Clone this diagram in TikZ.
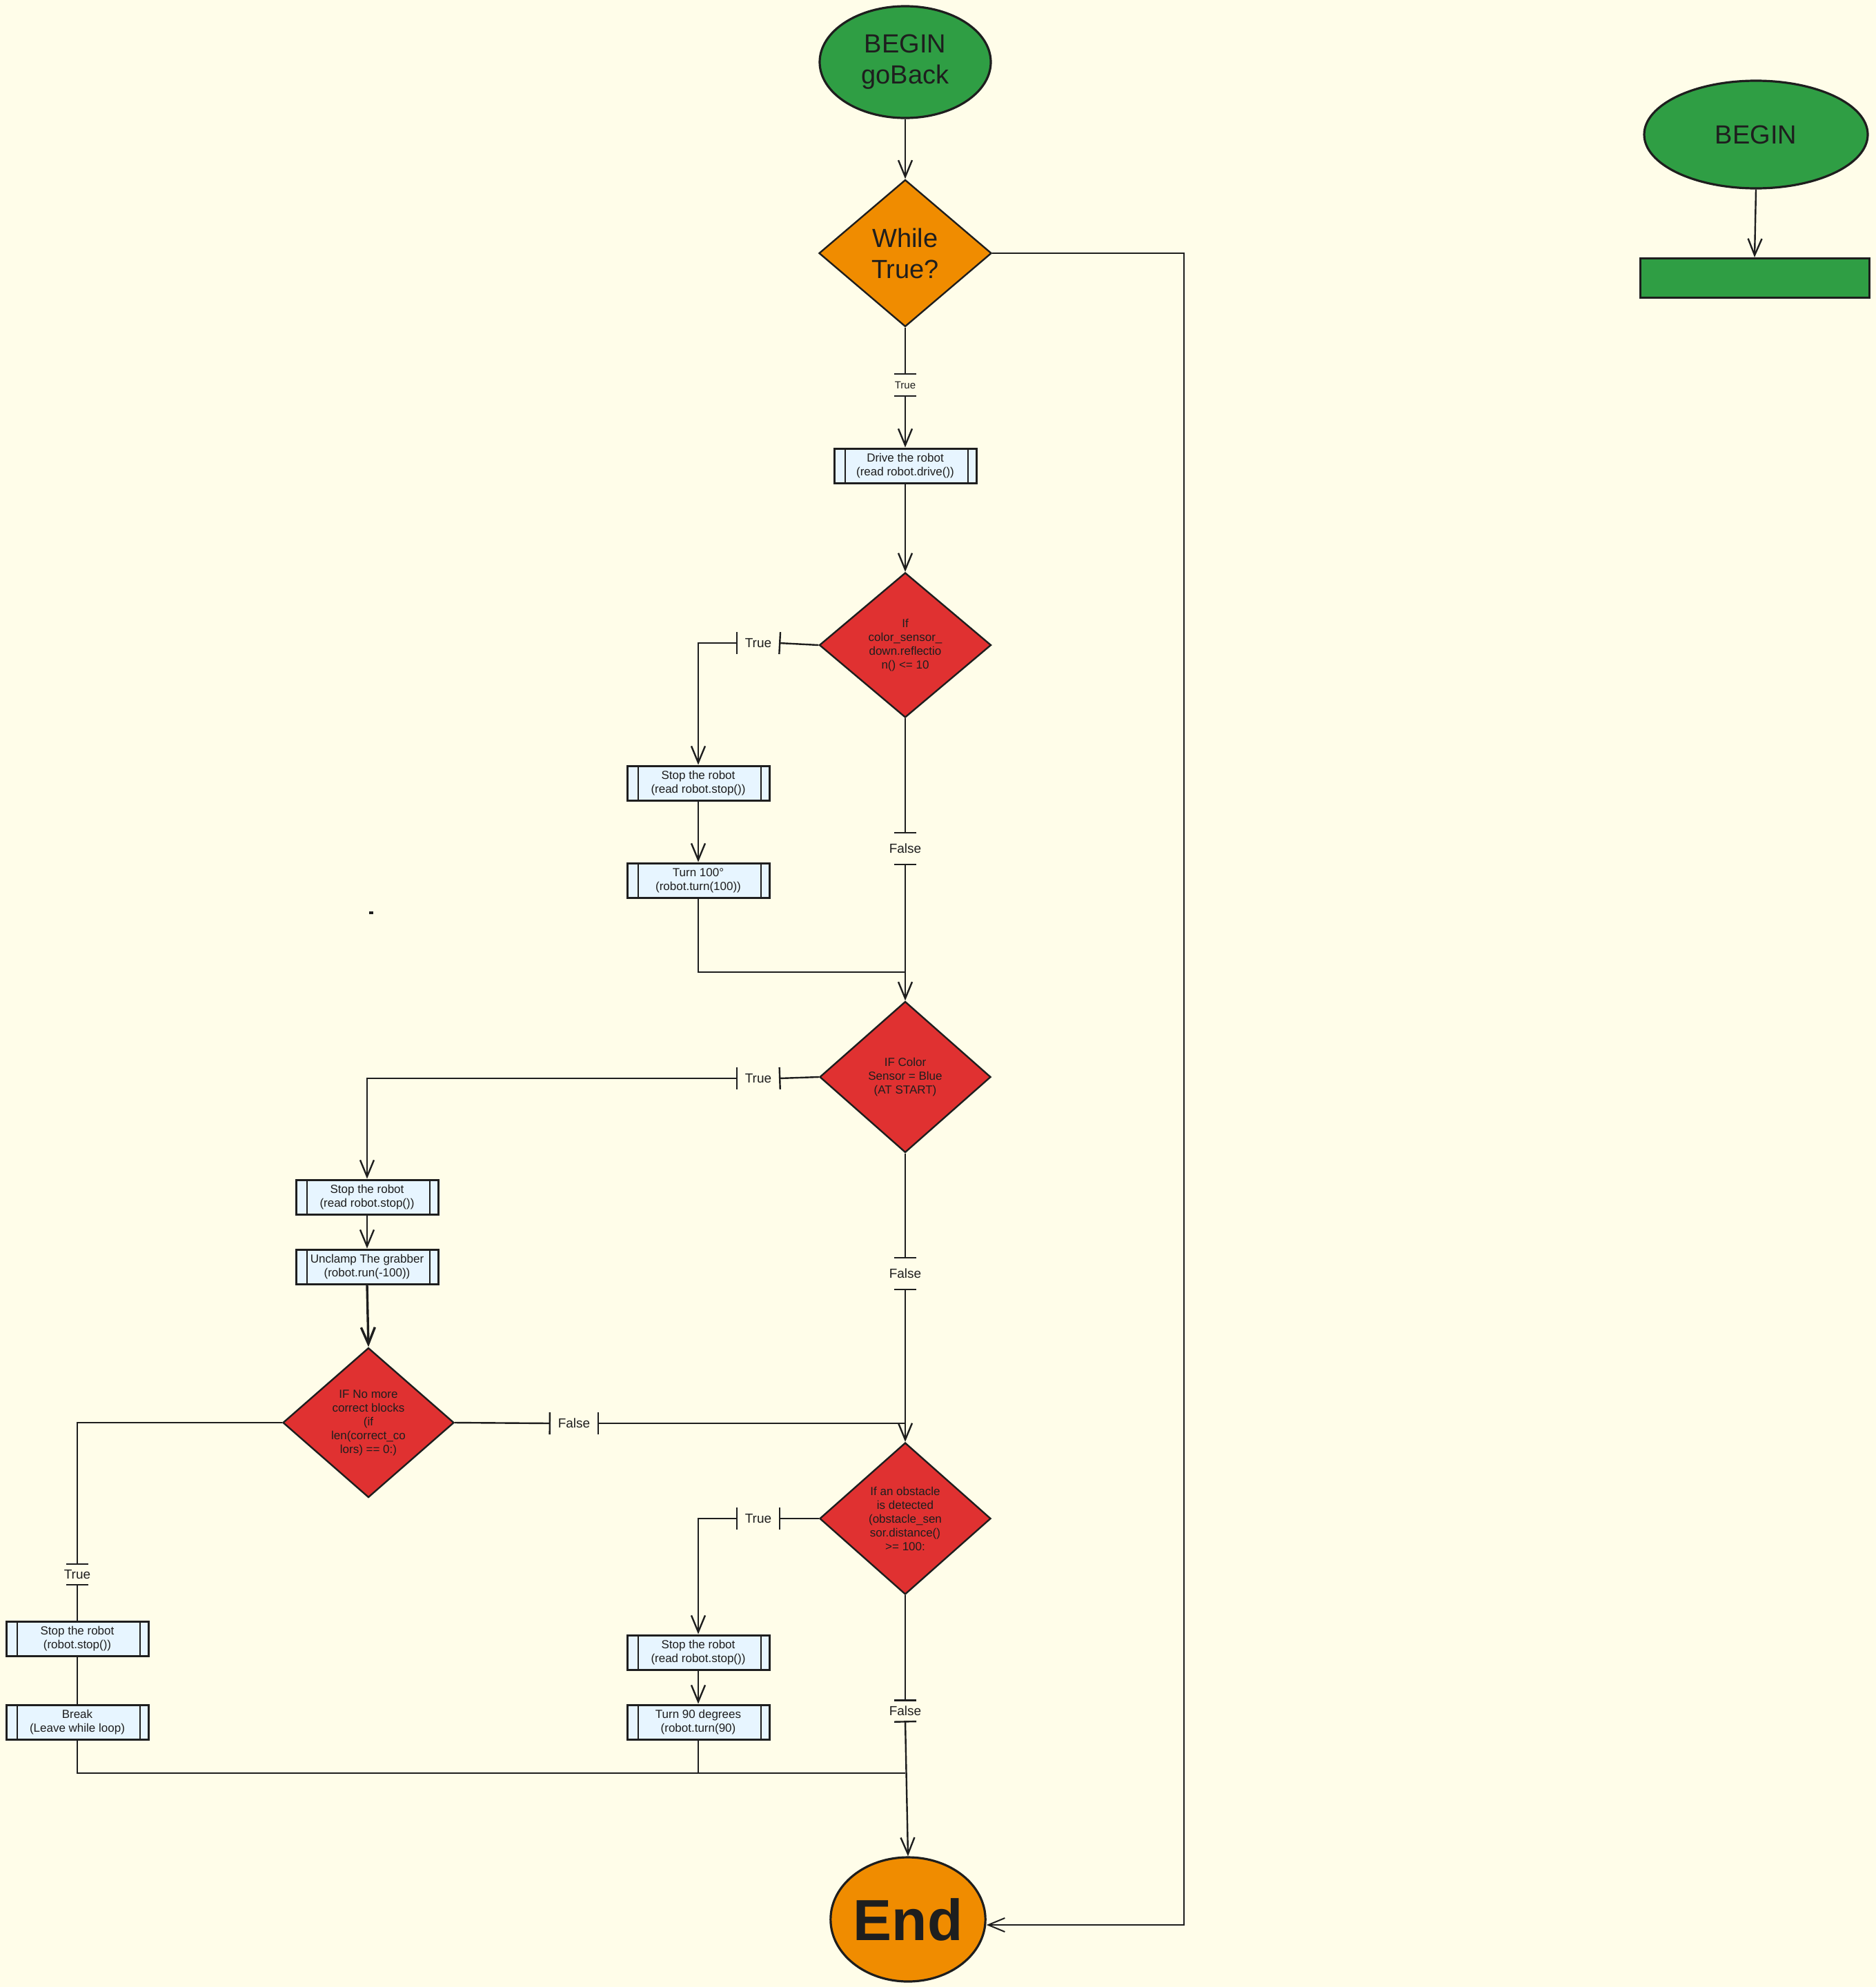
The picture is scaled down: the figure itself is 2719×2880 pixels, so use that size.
\documentclass[tikz,border=0pt]{standalone}
\usepackage{fontspec}
\setmainfont{Liberation Sans}
\usetikzlibrary{shapes.geometric,arrows.meta,calc}

\definecolor{paper}{HTML}{FFFDE9}
\definecolor{ink}{HTML}{1E1E1E}
\definecolor{leaf}{HTML}{2F9E44}
\definecolor{amber}{HTML}{F08C00}
\definecolor{alarm}{HTML}{E03131}
\definecolor{sky}{HTML}{E7F5FF}

\tikzset{
  vhead/.tip={Straight Barb[length=6pt,width=5pt]},
  lbar/.tip={Bar[width=8pt]},
  conn/.style={draw=ink,line width=0.6pt},
  terminal/.style={ellipse,draw=ink,line width=0.8pt,fill=leaf,inner sep=0pt,
    align=center,text=ink,font=\fontsize{9.5}{11.25}\selectfont},
  decision/.style={diamond,draw=ink,line width=0.6pt,fill=alarm,inner sep=0pt,
    align=center,text=ink,font=\fontsize{4.25}{5}\selectfont},
  procbox/.style={rectangle,draw=ink,line width=0.75pt,fill=sky,inner sep=0pt,
    minimum width=51.5pt,minimum height=12.5pt,align=center,text=ink,
    font=\fontsize{4.25}{5}\selectfont,
    path picture={
      \draw[ink,line width=0.6pt]
        ([xshift=4pt]path picture bounding box.north west) --
        ([xshift=4pt]path picture bounding box.south west);
      \draw[ink,line width=0.6pt]
        ([xshift=-3pt]path picture bounding box.north east) --
        ([xshift=-3pt]path picture bounding box.south east);
    }},
  lbl/.style={inner xsep=2.5pt,inner ysep=3.5pt,text=ink,
    font=\fontsize{4.75}{5.5}\selectfont},
  tightlbl/.style={lbl,inner ysep=1.6pt},
}

\begin{document}
\begin{tikzpicture}[x=0.25pt,y=-0.25pt]
  % canvas
  \fill[paper] (0,0) rectangle (2719,2880);
  \useasboundingbox (0,0) rectangle (2719,2880);

  % ---- main routine ----
  \node[terminal,minimum width=62pt,minimum height=40.5pt] (bgb) at (1312,90) {BEGIN\\goBack};
  \node[decision,fill=amber,minimum width=62.5pt,minimum height=53.25pt,
        font=\fontsize{9.5}{11.25}\selectfont] (wt) at (1312,367) {While\\True?};
  \node[lbl,font=\fontsize{3.75}{4.5}\selectfont,inner ysep=2.2pt] (t0) at (1312,558) {True};
  \node[procbox] (drv) at (1312,675) {Drive the robot\\(read robot.drive())};

  \node[decision,minimum width=62.25pt,minimum height=52.5pt] (d1) at (1312,935)
    {If\\color\_sensor\_\\down.reflectio\\n() <= 10};
  \node[lbl] (t1) at (1099,932) {True};
  \node[procbox] (stop1) at (1012,1135) {Stop the robot\\(read robot.stop())};
  \node[procbox] (turn1) at (1012,1276) {Turn 100°\\(robot.turn(100))};
  \node[lbl] (f1) at (1312,1230) {False};
  \coordinate (j1) at (1312,1409);

  \node[decision,minimum width=62pt,minimum height=54.75pt] (d2) at (1312,1561)
    {IF Color\\Sensor = Blue\\(AT START)};
  \node[lbl] (t2) at (1099,1563) {True};
  \node[procbox] (stop2) at (532,1735) {Stop the robot\\(read robot.stop())};
  \node[procbox] (unc) at (532,1836) {Unclamp The grabber\\(robot.run(-100))};
  \node[lbl] (f2) at (1312,1846) {False};

  \node[decision,minimum width=62pt,minimum height=54.25pt] (d3) at (534,2062)
    {IF No more\\correct blocks\\(if\\len(correct\_co\\lors) == 0:)};
  \node[lbl] (f3) at (832,2063) {False};
  \coordinate (j2) at (1312,2063);
  \node[tightlbl] (t3) at (112,2282) {True};
  \node[procbox] (stop3) at (112,2375) {Stop the robot\\(robot.stop())};
  \node[procbox] (brk) at (112,2496) {Break\\(Leave while loop)};

  \node[decision,minimum width=62pt,minimum height=55pt] (d4) at (1312,2201)
    {If an obstacle\\is detected\\(obstacle\_sen\\sor.distance()\\>= 100:};
  \node[lbl] (t4) at (1099,2201) {True};
  \node[procbox] (stop4) at (1012,2395) {Stop the robot\\(read robot.stop())};
  \node[procbox] (turn2) at (1012,2496) {Turn 90 degrees\\(robot.turn(90)};
  \node[tightlbl] (f4) at (1312,2480) {False};

  \coordinate (j3) at (1312,2570);
  \coordinate (j4) at (1012,2570);
  \coordinate (rloop) at (1716,1500);

  \node[terminal,fill=amber,minimum width=54.5pt,minimum height=45pt,
        font=\fontsize{21}{24}\bfseries] (end) at (1316,2782) {End};

  % ---- separate start block ----
  \node[terminal,minimum width=81pt,minimum height=39pt] (bg) at (2545,195) {BEGIN};
  \node[rectangle,draw=ink,line width=0.75pt,fill=leaf,minimum width=83pt,
        minimum height=14.25pt,inner sep=0pt] (grect) at (2543,403) {};

  % ---- connectors ----
  \draw[conn,-vhead] (bgb.south) -- (wt.north);
  \draw[conn,-lbar] (wt.south) -- (t0.north);
  \draw[conn,lbar-vhead] (t0.south) -- (drv.north);
  \draw[conn,-vhead] (drv.south) -- (d1.north);

  \draw[conn,-lbar] (d1.west) -- (t1.east);
  \draw[conn,lbar-vhead] (t1.west) -| (stop1.north);
  \draw[conn,-vhead] (stop1.south) -- (turn1.north);
  \draw[conn] (turn1.south) |- (j1);
  \draw[conn,-lbar] (d1.south) -- (f1.north);
  \draw[conn,lbar-vhead] (f1.south) -- (d2.north);

  \draw[conn,-lbar] (d2.west) -- (t2.east);
  \draw[conn,lbar-vhead] (t2.west) -| (stop2.north);
  \draw[conn,-vhead] (stop2.south) -- (unc.north);
  \draw[conn,line width=0.85pt,-vhead] (unc.south) -- (d3.north);
  \draw[conn,-lbar] (d2.south) -- (f2.north);
  \draw[conn,lbar-vhead] (f2.south) -- (d4.north);

  \draw[conn,-lbar] (d3.east) -- (f3.west);
  \draw[conn,lbar-] (f3.east) -- (j2);
  \draw[conn,-lbar] (d3.west) -| (t3.north);
  \draw[conn,lbar-] (t3.south) -- (stop3.north);
  \draw[conn] (stop3.south) -- (brk.north);
  \draw[conn] (brk.south) |- (j3);

  \draw[conn,-lbar] (d4.west) -- (t4.east);
  \draw[conn,lbar-vhead] (t4.west) -| (stop4.north);
  \draw[conn,-vhead] (stop4.south) -- (turn2.north);
  \draw[conn] (turn2.south) -- (j4);
  \draw[conn,-lbar] (d4.south) -- (f4.north);
  \draw[conn,lbar-vhead] (f4.south) -- (end.north);

  \draw[conn,line width=0.5pt,-vhead] (wt.east) -| (rloop) |- ([yshift=-2pt]end.east);

  \draw[conn,-vhead] (bg.south) -- (grect.north);

  % stray pen mark
  \fill[ink] (535,1321) rectangle (541,1325);
\end{tikzpicture}
\end{document}
